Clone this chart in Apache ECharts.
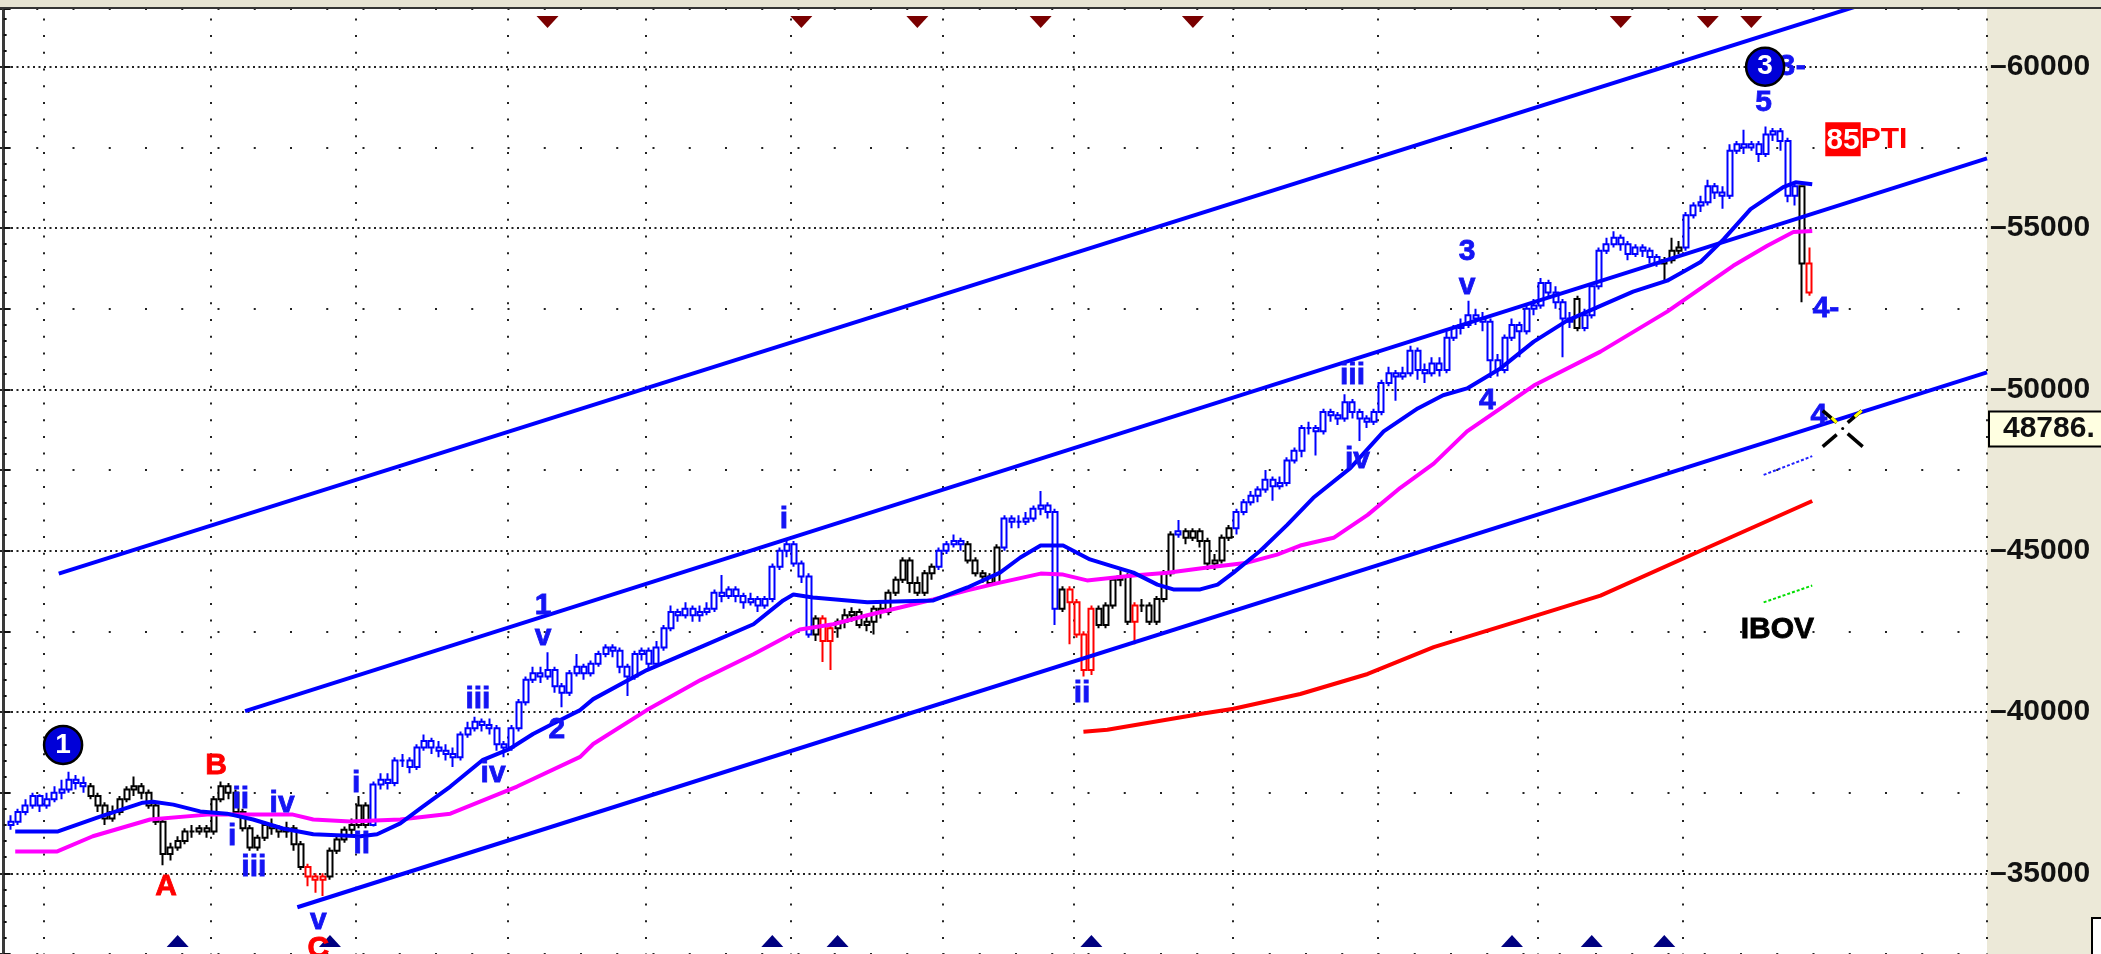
<!DOCTYPE html>
<html>
<head>
<meta charset="utf-8">
<title>IBOV</title>
<script src="https://cdn.jsdelivr.net/npm/echarts@6/dist/echarts.min.js"></script>
<style>
  html, body { margin: 0; padding: 0; background: #fff; }
  #main { width: 2101px; height: 954px; }
</style>
</head>
<body>
<div id="main"></div>
<script type="text/javascript">
// daily bars, one per slot, first bar sits in slot 1 : [open, close, low, high]
var slotCount = 274;
var firstBar = 1;
var bars = [
  [36500,36600,36350,36800],[36600,36900,36500,37000],[36900,37100,36800,37300],[37100,37400,37000,37500],[37400,37100,36900,37450],[37100,37300,37000,37500],[37300,37500,37200,37700],[37500,37600,37300,37900],[37600,37900,37500,38150],[37900,37800,37600,38050],
  [37800,37700,37500,38000],[37700,37400,37300,37800],[37400,37100,36900,37500],[37100,36700,36500,37200],[36700,36900,36600,37100],[36900,37300,36800,37400],[37300,37600,37200,37700],[37600,37700,37400,38000],[37700,37500,37300,37800],[37500,37100,37000,37600],
  [37100,36600,36500,37200],[36600,35600,35250,36700],[35600,35800,35400,35950],[35800,36000,35700,36150],[36000,36300,35900,36400],[36300,36300,36100,36500],[36300,36400,36200,36500],[36400,36300,36100,36500],[36300,37300,36200,37400],[37300,37700,37200,37850],
  [37700,37500,37300,37800],[37500,36900,36800,37600],[36900,36400,36300,37000],[36400,35800,35700,36500],[35800,36100,35700,36200],[36100,36500,36000,36600],[36500,36400,36200,36700],[36400,36300,36100,36500],[36300,36400,36100,36600],[36400,35900,35700,36500],
  [35900,35200,35100,36000],[35200,34900,34600,35300],[34900,34800,34400,35000],[34800,34900,34300,35000],[34900,35700,34800,35800],[35700,36050,35600,36200],[36050,36350,35950,36450],[36350,36500,36200,36700],[36500,37100,36400,37400],[37100,36500,36400,37200],
  [36500,37750,36450,37850],[37750,37900,37600,38100],[37900,37800,37600,38100],[37800,38500,37700,38600],[38500,38500,38300,38700],[38500,38300,38100,38600],[38300,38900,38200,39000],[38900,39100,38800,39300],[39100,38900,38700,39200],[38900,38800,38600,39100],
  [38800,38700,38500,39000],[38700,38600,38300,38900],[38600,39300,38500,39400],[39300,39500,39200,39700],[39500,39700,39400,39850],[39700,39600,39400,39800],[39600,39500,39300,39800],[39500,39000,38800,39600],[39000,38900,38600,39100],[38900,39500,38800,39600],
  [39500,40300,39400,40400],[40300,41000,40200,41100],[41000,41200,40900,41400],[41200,41100,40900,41400],[41100,41300,41000,41850],[41300,40800,40600,41400],[40800,40600,40150,40900],[40600,41200,40500,41300],[41200,41400,41100,41800],[41400,41200,41000,41500],
  [41200,41500,41100,41600],[41500,41800,41400,41900],[41800,42000,41700,42100],[42000,41900,41700,42100],[41900,41400,41200,42000],[41400,41100,40500,41500],[41100,41800,41000,41900],[41800,41900,41600,42000],[41900,41500,41300,42000],[41500,42000,41400,42200],
  [42000,42600,41900,42700],[42600,43100,42500,43300],[43100,43000,42800,43200],[43000,43200,42900,43400],[43200,43000,42800,43300],[43000,43100,42800,43300],[43100,43200,43000,43400],[43200,43700,43100,43800],[43700,43600,43400,44250],[43600,43800,43500,43900],
  [43800,43600,43400,43900],[43600,43400,43200,43700],[43400,43500,43300,43700],[43500,43300,43100,43600],[43300,43500,43200,43600],[43500,44500,43400,44600],[44500,45000,44400,45100],[45000,45200,44800,45300],[45200,44600,44500,45300],[44600,44200,44000,44700],
  [44200,42400,42300,44300],[42400,42900,42200,43000],[42900,42200,41550,43000],[42200,42600,41300,42700],[42600,42800,42300,42900],[42800,43000,42600,43200],[43000,43100,42800,43250],[43100,42700,42600,43200],[42700,42800,42500,43000],[42800,43200,42400,43300],
  [43200,43100,42900,43400],[43100,43700,43000,43800],[43700,44100,43600,44200],[44100,44700,44000,44800],[44700,44000,43700,44800],[44000,43700,43600,44200],[43700,44300,43600,44400],[44300,44500,44100,44600],[44500,45000,44400,45100],[45000,45200,44900,45300],
  [45200,45300,45100,45500],[45300,45200,45000,45400],[45200,44700,44600,45300],[44700,44300,44200,44800],[44300,44200,44000,44400],[44200,44000,43900,44300],[44000,45100,43950,45200],[45100,46000,45000,46100],[46000,45900,45700,46100],[45900,45900,45700,46100],
  [45900,46000,45800,46200],[46000,46300,45900,46400],[46300,46400,46100,46850],[46400,46200,46000,46500],[46200,43200,42700,46300],[43200,43800,43100,43900],[43800,43400,42100,43900],[43400,42400,42300,43500],[42400,41300,41100,42500],[41300,43200,41150,43300],
  [43200,42700,42600,43300],[42700,43300,42600,43400],[43300,44100,43200,44200],[44100,44200,43900,44400],[44200,42800,42700,44300],[42800,43300,42100,43400],[43300,43300,43100,43500],[43300,42800,42700,43400],[42800,43500,42700,43600],[43500,44300,43400,44400],
  [44300,45500,44200,45600],[45500,45600,45400,45950],[45600,45400,45200,45700],[45400,45600,45300,45700],[45600,45300,45100,45700],[45300,44600,44400,45400],[44600,44700,44400,44900],[44700,45400,44600,45500],[45400,45700,45300,45800],[45700,46200,45500,46300],
  [46200,46500,46100,46600],[46500,46700,46400,46850],[46700,46900,46500,47000],[46900,47200,46800,47500],[47200,47000,46550,47300],[47000,47100,46900,47300],[47100,47800,47000,47900],[47800,48100,47700,48200],[48100,48800,47900,48900],[48800,48800,48600,49000],
  [48800,48700,47950,48900],[48700,49300,48600,49400],[49300,49200,49000,49400],[49200,49100,48900,49300],[49100,49600,49000,49850],[49600,49300,49100,49700],[49300,49100,48400,49400],[49100,49000,48800,49200],[49000,49300,48900,49400],[49300,50200,49200,50300],
  [50200,50500,50100,50700],[50500,50400,49650,50600],[50400,50500,50300,50700],[50500,51200,50400,51350],[51200,50600,50300,51300],[50600,50500,50200,50800],[50500,50800,50400,51000],[50800,50600,50400,51000],[50600,51600,50500,51800],[51600,51900,51500,52000],
  [51900,52000,51700,52200],[52000,52300,51900,52750],[52300,52200,52000,52500],[52200,52100,51800,52400],[52100,50900,50350,52200],[50900,50600,50400,51100],[50600,51600,50500,51700],[51600,52000,51500,52200],[52000,51800,51000,52100],[51800,52500,51700,52600],
  [52500,52600,52300,52800],[52600,53300,52500,53450],[53300,53000,52800,53400],[53000,52700,52500,53200],[52700,52200,51000,52800],[52200,52100,51900,52400],[52800,51900,51800,52900],[51900,52300,51800,52500],[52300,53200,52200,53300],[53200,54300,53100,54400],
  [54300,54500,54200,54700],[54500,54700,54400,54900],[54700,54500,54300,54800],[54500,54200,54000,54600],[54200,54400,54100,54500],[54400,54300,54100,54500],[54300,54100,53900,54400],[54100,53900,53800,54200],[53900,54000,53350,54100],[54000,54300,53900,54700],
  [54300,54400,54200,54600],[54400,55400,54300,55500],[55400,55700,55300,55800],[55700,55800,55500,56000],[55800,56300,55700,56500],[56300,56100,55900,56400],[56100,56000,55600,56300],[56000,57400,55900,57600],[57400,57600,57300,57700],[57600,57500,57300,58050],
  [57500,57600,57400,57700],[57600,57300,57050,57700],[57300,57900,57200,58150],[57900,58000,57700,58100],[58000,57700,57400,58100],[57700,56000,55800,57800],[56000,56300,55700,56400],[56300,53900,52700,56300],[53900,53000,52900,54400]
];

// trend colouring of the bars: [fromSlot, toSlot, colour key]
var trendRuns = [
  [1, 11, 'b'], [12, 41, 'k'], [42, 44, 'r'], [45, 50, 'k'], [51, 111, 'b'], [112, 112, 'k'],
  [113, 114, 'r'], [115, 128, 'k'], [129, 132, 'b'], [133, 137, 'k'], [138, 145, 'b'], [146, 146, 'k'],
  [147, 150, 'r'], [151, 155, 'k'], [156, 156, 'r'], [157, 161, 'k'], [162, 162, 'b'], [163, 169, 'k'],
  [170, 216, 'b'], [217, 217, 'k'], [218, 228, 'b'], [229, 231, 'k'], [232, 247, 'b'], [248, 248, 'k'],
  [249, 249, 'r']
];

// first slot of every month (vertical dotted lines)
var monthStarts = [6, 29, 49, 70, 89, 109, 130, 148, 170, 190, 212, 232];

var maFast = [
  [1.6,36300],[7.5,36300],[13.3,36760],[19.2,37190],[20.6,37220],[23.4,37130],[27.1,36920],[30.8,36850],[34.4,36670],
  [38.5,36390],[42.7,36210],[49.2,36150],[51.5,36210],[54.7,36550],[57.8,37070],[61.6,37690],[66.1,38520],[69.8,38860],
  [73,39320],[75.4,39600],[79.5,40060],[81.3,40400],[88.7,41300],[96.1,42010],[103.4,42720],[107.5,43460],[108.9,43640],
  [111.6,43550],[119.1,43400],[128.2,43460],[132.9,43860],[137.4,44320],[140.2,44790],[143,45160],[146.1,45160],
  [149.8,44730],[152.6,44540],[155.8,44320],[159.1,43950],[161.3,43800],[165,43800],[167.4,43950],[169.6,44320],
  [173.3,45000],[177,45800],[180.6,46640],[185.7,47560],[190.3,48700],[195,49410],[198.5,49820],[201.8,50030],
  [206.4,50650],[211,51480],[215.6,52130],[220.2,52590],[224.7,53030],[229.4,53370],[234,53950],[237.2,54660],
  [240.9,55590],[245.4,56270],[247.1,56420],[249.4,56360]
];
var maSlow = [
  [1.6,35680],[7.4,35680],[12.3,36150],[20.2,36670],[28.1,36820],[39.9,36820],[42.7,36670],[47.8,36610],[54.7,36670],
  [61.6,36850],[70.8,37690],[79.5,38610],[81.3,39010],[88.7,40060],[96.1,40990],[103.4,41790],[109.8,42560],
  [114.4,42720],[119.1,43000],[123.6,43240],[128.2,43490],[132.9,43770],[137.4,44010],[143,44290],[146.1,44260],
  [149.4,44080],[155.8,44230],[160.5,44320],[166,44480],[171.5,44630],[175.6,44880],[178.8,45160],[183.4,45400],
  [188.1,46110],[192.6,46950],[197.2,47700],[201.8,48700],[211,50120],[220.2,51170],[229.4,52410],[238.5,53830],
  [243.2,54450],[246.8,54880],[249.4,54910]
];
var maLong = [
  [148.9,39390],[152.2,39450],[165,39940],[169.6,40100],[178.8,40560],[188.1,41180],[197.2,42010],[209.2,42840],
  [220.2,43610],[234,45000],[249.4,46540]
];

// channel lines : [slot, value] end points
var channelTop = [[7.6, 44290], [273.5, 63150]];
var channelMid = [[33.3, 40030], [273.5, 57160]];
var channelLow = [[40.5, 33950], [273.5, 50525]];

// short projections at the right
var projBlue = [[242.7, 47350], [249.4, 47930]];
var projGreen = [[242.7, 43400], [249.4, 43920]];

// signal arrows (slot)
var sellMarks = [75, 110, 126, 143, 164, 223, 235, 241];
var buyMarks = [24, 45, 106, 115, 150, 208, 219, 229];
var sellLevel = 61390, buyLevel = 32900;

// wave counts : [slot, value, text, colour key]
var waveLabels = [
  [29.3, 38340, 'B', 'r'], [22.4, 34570, 'A', 'r'], [43.4, 32660, 'C', 'r'],
  [32.7, 37290, 'ii', 'b'], [31.5, 36150, 'i', 'b'], [38.4, 37160, 'iv', 'b'], [34.5, 35160, 'iii', 'b'],
  [43.4, 33520, 'v', 'b'], [48.6, 37780, 'i', 'b'], [49.4, 35900, 'ii', 'b'], [65.4, 40370, 'iii', 'b'],
  [67.5, 38090, 'iv', 'b'], [74.4, 43300, '1', 'b'], [74.4, 42320, 'v', 'b'], [76.3, 39450, '2', 'b'],
  [107.6, 45960, 'i', 'b'], [148.7, 40560, 'ii', 'b'], [186, 50430, 'iii', 'b'], [186.7, 47810, 'iv', 'b'],
  [201.8, 54260, '3', 'b'], [201.8, 53210, 'v', 'b'], [204.6, 49660, '4', 'b'], [242.7, 58890, '5', 'b'],
  [251.3, 52500, '4-', 'b'], [250.3, 49170, '4', 'b'], [245.9, 60000, '3', 'b'], [247.8, 60000, '-', 'b'],
  [244.6, 42560, 'IBOV', 'k']
];
var circled = [[8.2, 38980, '1'], [242.9, 60000, '3']];
var tagPTI = [251.2, 57750];

var lastValue = 48786;
var cursorSlot = 253.6;

var yMin = 32500, yMax = 61800;

var palette = { b: '#0000FF', k: '#000000', r: '#FF0000' };
var labelInk = { b: '#1414F4', k: '#000000', r: '#FF0000' };
var FONT = '"Liberation Sans", Arial, sans-serif';

function runColor(slot) {
  for (var i = 0; i < trendRuns.length; i++) {
    if (slot >= trendRuns[i][0] && slot <= trendRuns[i][1]) return palette[trendRuns[i][2]];
  }
  return palette.k;
}

var slots = [];
for (var s = 0; s < slotCount; s++) slots.push(String(s));

var candleData = bars.map(function (b, k) {
  var slot = firstBar + k;
  var col = runColor(slot);
  return {
    value: [slot, b[0], b[1], b[2], b[3]],
    itemStyle: { color: '#ffffff', color0: col, borderColor: col, borderColor0: col }
  };
});

function lineSeries(data, color, width, type) {
  return {
    type: 'line', xAxisIndex: 1, yAxisIndex: 0, data: data, symbol: 'none', silent: true,
    lineStyle: { color: color, width: width, type: type || 'solid' }, z: 3
  };
}

var myChart = echarts.init(document.getElementById('main'));

var option = {
  animation: false,
  grid: { left: 0, top: 8.7, width: 1987, height: 949.3, show: false },
  xAxis: [
    {
      type: 'category', data: slots, boundaryGap: true,
      axisLine: { show: false }, axisTick: { show: false }, axisLabel: { show: false },
      splitLine: {
        show: true,
        interval: function (i) { return monthStarts.indexOf(i) >= 0; },
        lineStyle: { color: '#222', width: 2, type: [2, 14.7], dashOffset: 7 }
      }
    },
    { type: 'value', min: -0.5, max: slotCount - 0.5, show: false }
  ],
  yAxis: [
    {
      type: 'value', position: 'right', min: yMin, max: yMax, interval: 2500,
      axisLine: { show: true, lineStyle: { color: '#3a3a3a', width: 3 } },
      axisTick: { show: true, length: 7, lineStyle: { color: '#111', width: 2 } },
      minorTick: { show: true, splitNumber: 5, length: 3, lineStyle: { color: '#111', width: 2 } },
      axisLabel: {
        margin: 3, color: '#111', fontFamily: FONT, fontWeight: 'bold', fontSize: 30,
        formatter: function (v) { return v % 5000 === 0 ? '\u2013' + v : ''; }
      },
      splitLine: { show: true, lineStyle: { color: ['rgba(0,0,0,0)', '#222'], width: 2, type: [2, 3.5] } }
    },
    {
      type: 'value', position: 'right', min: yMin, max: yMax, interval: 2500,
      axisLine: { show: false }, axisTick: { show: false }, axisLabel: { show: false },
      splitLine: { show: true, lineStyle: { color: ['#222', 'rgba(0,0,0,0)'], width: 2, type: [2, 34.25] } }
    }
  ],
  series: [
    {
      type: 'candlestick', xAxisIndex: 0, yAxisIndex: 0, barWidth: 5.5,
      encode: { x: 0, y: [1, 2, 3, 4] },
      itemStyle: { borderWidth: 2 },
      data: candleData, z: 2
    },
    lineSeries(channelTop, '#0000FF', 4),
    lineSeries(channelMid, '#0000FF', 4),
    lineSeries(channelLow, '#0000FF', 4),
    lineSeries(maSlow, '#FF00FF', 4),
    lineSeries(maFast, '#0000FF', 4),
    lineSeries(maLong, '#FF0000', 4),
    lineSeries(projBlue, '#2020FF', 2, [3, 2]),
    lineSeries(projGreen, '#00DD00', 2, [3, 2]),
    {
      type: 'scatter', xAxisIndex: 1, yAxisIndex: 0, silent: true, z: 6,
      symbol: 'triangle', symbolSize: [22, 12], symbolRotate: 180,
      itemStyle: { color: '#7A0000', opacity: 1 },
      data: sellMarks.map(function (m) { return [m, sellLevel]; })
    },
    {
      type: 'scatter', xAxisIndex: 1, yAxisIndex: 0, silent: true, z: 6,
      symbol: 'triangle', symbolSize: [22, 12],
      itemStyle: { color: '#000080', opacity: 1 },
      data: buyMarks.map(function (m) { return [m, buyLevel]; })
    },
    {
      type: 'scatter', xAxisIndex: 1, yAxisIndex: 0, silent: true, z: 7,
      symbolSize: 1, itemStyle: { color: 'rgba(0,0,0,0)', opacity: 1 },
      data: waveLabels.map(function (w) {
        return {
          value: [w[0], w[1]],
          label: {
            show: true, position: 'inside', formatter: w[2], color: labelInk[w[3]],
            textBorderColor: labelInk[w[3]], textBorderWidth: 0.8,
            fontFamily: FONT, fontWeight: 'bold', fontSize: 30
          }
        };
      }).concat([{
        value: tagPTI,
        label: {
          show: true, position: 'inside', align: 'left', formatter: '{r|85}{t|PTI}',
          rich: {
            r: { backgroundColor: '#FF0000', color: '#ffffff', fontFamily: FONT, fontWeight: 'bold', fontSize: 30, padding: [3, 1, 1, 1] },
            t: { color: '#FF0000', fontFamily: FONT, fontWeight: 'bold', fontSize: 30 }
          }
        }
      }])
    },
    {
      type: 'scatter', xAxisIndex: 1, yAxisIndex: 0, silent: true, z: 8,
      symbol: 'circle', symbolSize: 38,
      itemStyle: { color: '#0000D8', borderColor: '#000', borderWidth: 2.5, opacity: 1 },
      label: {
        show: true, position: 'inside', color: '#ffffff', fontFamily: FONT, fontWeight: 'bold', fontSize: 28,
        formatter: function (p) { return p.data[2]; }
      },
      data: circled
    }
  ],
  graphic: [
    { type: 'rect', silent: true, z: -1, shape: { x: 1987, y: 0, width: 114, height: 954 }, style: { fill: '#ECE9D8' } },
    { type: 'rect', silent: true, z: 100, shape: { x: 0, y: 0, width: 2101, height: 7 }, style: { fill: '#E6E3D2' } },
    { type: 'rect', silent: true, z: 100, shape: { x: 0, y: 7, width: 2101, height: 2 }, style: { fill: '#333' } },
    { type: 'rect', silent: true, z: 100, shape: { x: 2092, y: 918, width: 30, height: 60 }, style: { fill: '#fff', stroke: '#000', lineWidth: 2 } }
  ]
};

myChart.setOption(option);

// value box on the price scale and cursor cross, placed from the scales
var cy = myChart.convertToPixel({ yAxisIndex: 0 }, lastValue);
var cx = myChart.convertToPixel({ xAxisIndex: 1 }, cursorSlot);
function seg(x1, y1, x2, y2, color, w) {
  return { type: 'line', silent: true, z: 20, shape: { x1: x1, y1: y1, x2: x2, y2: y2 }, style: { stroke: color, lineWidth: w } };
}
myChart.setOption({
  graphic: option.graphic.concat([
    { type: 'rect', silent: true, z: 20, shape: { x: 1989, y: cy - 17, width: 120, height: 35 }, style: { fill: '#FFFFE1', stroke: '#000', lineWidth: 2 } },
    { type: 'text', silent: true, z: 21, x: 2003, y: cy, style: { text: lastValue + '.', fill: '#111', font: 'bold 30px ' + FONT, verticalAlign: 'middle' } },
    seg(cx - 20, cy - 18, cx - 6, cy - 6, '#000', 3.5),
    seg(cx + 5, cy + 5, cx + 20, cy + 18, '#000', 3.5),
    seg(cx - 20, cy + 18, cx - 6, cy + 6, '#000', 3.5),
    seg(cx + 5, cy - 6, cx + 19, cy - 18, '#000', 3.5),
    seg(cx - 11, cy - 11, cx - 6, cy - 6, '#FFFF00', 3),
    seg(cx + 12, cy - 12, cx + 19, cy - 18, '#FFFF00', 3),
    { type: 'circle', silent: true, z: 20, shape: { cx: cx, cy: cy, r: 1.5 }, style: { fill: '#000' } }
  ])
});
</script>
</body>
</html>
